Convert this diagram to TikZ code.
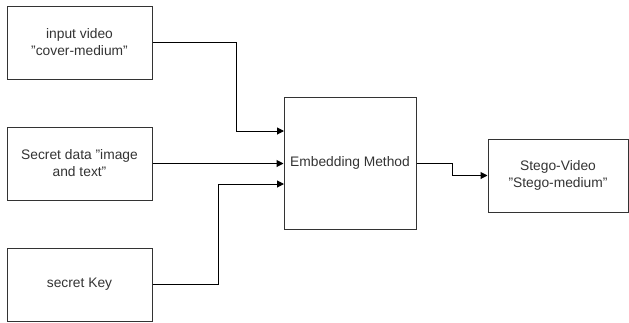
\documentclass[tikz,border=0pt]{standalone}
\usepackage{fontspec}
\setmainfont{Liberation Sans}
\usetikzlibrary{arrows.meta}
\definecolor{txt}{HTML}{333333}
\tikzset{
  box/.style={draw=black!80, line width=1pt, inner sep=0pt, align=center, text=txt, font=\fontsize{13.8}{17}\selectfont},
  conn/.style={draw=black, line width=1pt, -{Triangle[length=7pt,width=7pt]}}
}
\begin{document}
\begin{tikzpicture}[x=1pt,y=-1pt]
\useasboundingbox (0,0) rectangle (629,322);
\node[box, minimum width=145pt, minimum height=73pt] (inp) at (79.5,42.5) {input video\\"cover-medium"};
\node[box, minimum width=145pt, minimum height=73pt] (sec) at (79.5,163.5) {Secret data "image\\and text"};
\node[box, minimum width=145pt, minimum height=73pt] (key) at (79.5,284.5) {secret Key};
\node[box, minimum width=132pt, minimum height=132pt] (emb) at (350,163) {Embedding Method};
\node[box, minimum width=140pt, minimum height=73pt] (out) at (558,175.5) {Stego-Video\\"Stego-medium"};
\coordinate (t1) at (284,131);
\coordinate (t3) at (284,184);
\draw[conn] (inp.east) -| (236,131) -- (t1);
\draw[conn] (sec.east) -- (sec.east -| emb.west);
\draw[conn] (key.east) -| (218,184) -- (t3);
\draw[conn] (emb.east) -- (452,163) |- (out.west);
\end{tikzpicture}
\end{document}
